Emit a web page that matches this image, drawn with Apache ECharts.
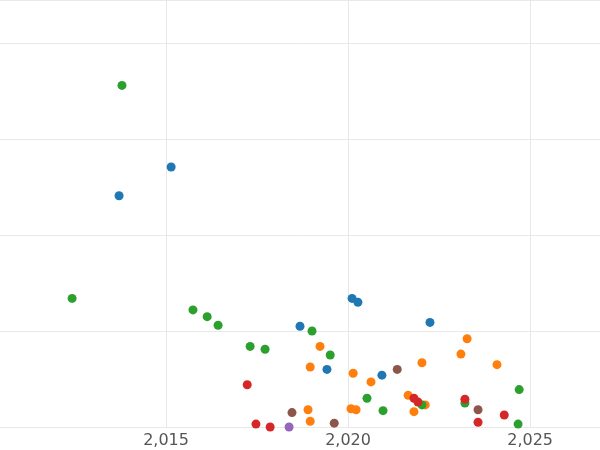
<!DOCTYPE html>
<html lang="en">
<head>
<meta charset="UTF-8" />
<title>scatter</title>
<script src="https://cdn.jsdelivr.net/npm/echarts@6/dist/echarts.min.js"></script>
<style>html,body{margin:0;background:#fff;overflow:hidden;}</style>
</head>
<body>
<div id="main" style="width:600px;height:450px;"></div>
<script type="text/javascript">
// points per group: [year, value]
var greenPts = [[2013.79,3.56],[2012.42,1.34],[2015.74,1.22],[2016.13,1.15],[2016.43,1.06],[2017.31,0.84],[2017.72,0.81],[2019.01,1.0],[2019.51,0.75],[2020.52,0.30],[2020.96,0.17],[2023.21,0.25],[2022.03,0.23],[2024.70,0.39],[2024.67,0.03]];
var bluePts = [[2013.71,2.41],[2015.14,2.71],[2018.68,1.05],[2019.42,0.60],[2020.11,1.34],[2020.27,1.30],[2020.93,0.54],[2022.25,1.09]];
var orangePts = [[2018.96,0.625],[2019.23,0.84],[2018.90,0.18],[2018.96,0.06],[2020.14,0.56],[2020.08,0.19],[2020.22,0.18],[2020.63,0.47],[2021.65,0.33],[2021.81,0.16],[2022.03,0.67],[2022.12,0.23],[2023.10,0.76],[2023.27,0.92],[2024.09,0.65]];
var redPts = [[2017.23,0.44],[2017.47,0.03],[2017.86,0.0],[2021.81,0.30],[2021.92,0.26],[2023.21,0.29],[2023.57,0.05],[2024.29,0.125]];
var brownPts = [[2018.46,0.15],[2019.62,0.04],[2021.35,0.6],[2023.57,0.18]];
var purplePts = [[2018.38,0.0]];

var groups = [
  {d: bluePts, c: '#1f77b4'},
  {d: orangePts, c: '#ff7f0e'},
  {d: greenPts, c: '#2ca02c'},
  {d: redPts, c: '#d62728'},
  {d: purplePts, c: '#9467bd'},
  {d: brownPts, c: '#8c564b'}
];

var myChart = echarts.init(document.getElementById('main'));
var option = {
  animation: false,
  grid: {left: -16, right: 0, top: 0, bottom: 23, containLabel: false, outerBoundsMode: 'none'},
  xAxis: {
    type: 'value', min: 2010, max: 2026.92, interval: 5,
    axisLine: {show: false}, axisTick: {show: false},
    axisLabel: {color: '#555', fontSize: 16, fontFamily: 'DejaVu Sans', margin: 6,
      showMinLabel: false, showMaxLabel: false},
    splitLine: {lineStyle: {color: '#e8e8e8'}}
  },
  yAxis: {
    type: 'value', min: 0, max: 4.45, interval: 1,
    axisLine: {show: false}, axisTick: {show: false}, axisLabel: {show: false},
    splitLine: {lineStyle: {color: '#e8e8e8'}}
  },
  series: groups.map(function (g) {
    return {type: 'scatter', data: g.d, symbolSize: 9, clip: true,
      itemStyle: {color: g.c, opacity: 1}};
  })
};
myChart.setOption(option);
</script>
</body>
</html>
